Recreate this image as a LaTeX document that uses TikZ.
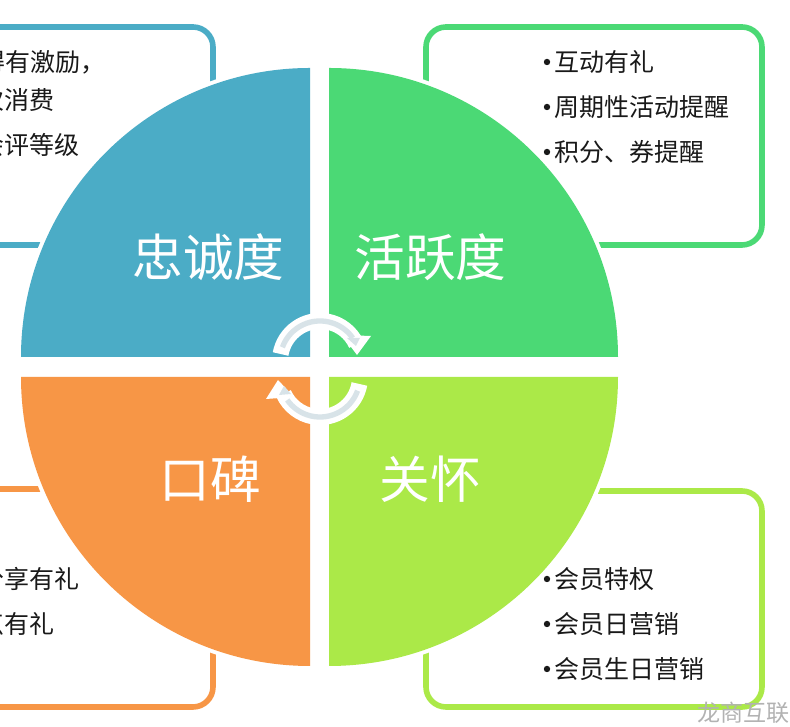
\documentclass[tikz,border=0pt]{standalone}
\usepackage{fontspec}
\setmainfont{Noto Sans CJK SC}
\newfontfamily\markfont{Noto Sans CJK SC}
\definecolor{loyalblue}{HTML}{4BACC6}
\definecolor{activegreen}{HTML}{4BD975}
\definecolor{carelime}{HTML}{ABE948}
\definecolor{wordorange}{HTML}{F79646}
\definecolor{arrowgrey}{HTML}{D8E3E8}
\tikzset{
  infobox/.style={line width=4.2pt, rounded corners=15pt, fill=white},
  quarter/.style={preaction={draw=white, line width=6pt}},
  biglabel/.style={text=white, font=\fontsize{38pt}{38pt}\selectfont, inner sep=0pt},
  itemlabel/.style={text=black!90, font=\fontsize{18.75pt}{18.75pt}\selectfont, inner sep=0pt},
  leftitem/.style={itemlabel, anchor=east},
  rightitem/.style={itemlabel, anchor=west},
  itemdot/.style={fill=black!90, inner sep=0pt, minimum size=4.8pt, circle},
}
\begin{document}
\begin{tikzpicture}[x=0.75pt, y=0.75pt]
        \useasboundingbox (0,0) rectangle (790,727);
        \clip (0,0) rectangle (790,727);
        % boxes behind the circle
        \draw[infobox, draw=loyalblue] (-60,482) rectangle (213,700);
        \draw[infobox, draw=activegreen] (426,482) rectangle (762,700);
        \draw[infobox, draw=wordorange] (-60,20) rectangle (213,238);
        \draw[infobox, draw=carelime] (426,20) rectangle (762,236);
        % four quarters
        \fill[loyalblue, quarter] (310,370) -- (21,370) arc (180:90:289) -- cycle;
        \fill[activegreen, quarter] (329,370) -- (329,659) arc (90:0:289) -- cycle;
        \fill[wordorange, quarter] (310,350) -- (310,61) arc (270:180:289) -- cycle;
        \fill[carelime, quarter] (329,350) -- (618,350) arc (0:-90:289) -- cycle;
        % turning arrows
        \draw[white, line width=12pt] (280.6,373) arc (170:25:40);
        \fill[white] (342,392) -- (371,391) -- (357,372) -- cycle;
        \draw[arrowgrey, line width=4pt] (282.4,379.7) arc (160:35:40);
        \fill[arrowgrey] (347,389) -- (360,389) -- (356,381) -- cycle;
        \draw[white, line width=12pt] (359.4,343) arc (-10:-155:40);
        \fill[white] (294,330) -- (266,328) -- (278,347) -- cycle;
        \draw[arrowgrey, line width=4pt] (357.6,336.3) arc (-20:-145:40);
        \fill[arrowgrey] (291,333) -- (279,332) -- (284,341) -- cycle;
        % quarter names
        \node[biglabel] (zhongcheng) at (208.5,470) {忠诚度};
        \node[biglabel] (huoyue) at (430.5,470) {活跃度};
        \node[biglabel] (koubei) at (210,248) {口碑};
        \node[biglabel] (guanhuai) at (430.5,248) {关怀};
        % left upper list
        \node[leftitem] (jili) at (106,665) {得有激励，};
        \node[leftitem] (xiaofei) at (55,627) {次消费};
        \node[leftitem] (dengji) at (80,582) {会评等级};
        % right upper list
        \node[rightitem] (hudong) at (554,665) {互动有礼};
        \node[rightitem] (zhouqi) at (554,620) {周期性活动提醒};
        \node[rightitem] (jifen) at (554,575) {积分、券提醒};
        \node[itemdot] (dota) at (547,665) {};
        \node[itemdot] (dotb) at (547,620) {};
        \node[itemdot] (dotc) at (547,575) {};
        % left lower list
        \node[leftitem] (fenxiang) at (80,148) {分享有礼};
        \node[leftitem] (dianping) at (55,103) {点有礼};
        % right lower list
        \node[rightitem] (tequan) at (554,148) {会员特权};
        \node[rightitem] (riyingxiao) at (554,103) {会员日营销};
        \node[rightitem] (shengri) at (554,58) {会员生日营销};
        \node[itemdot] (dotd) at (547,148) {};
        \node[itemdot] (dote) at (547,103) {};
        \node[itemdot] (dotf) at (547,58) {};
        % corner mark
        \node[text=black!30, font=\markfont\fontsize{17.3pt}{17.3pt}\selectfont, inner sep=0pt, anchor=east] (longshang) at (790,14) {龙商互联};
      \end{tikzpicture}
\end{document}
